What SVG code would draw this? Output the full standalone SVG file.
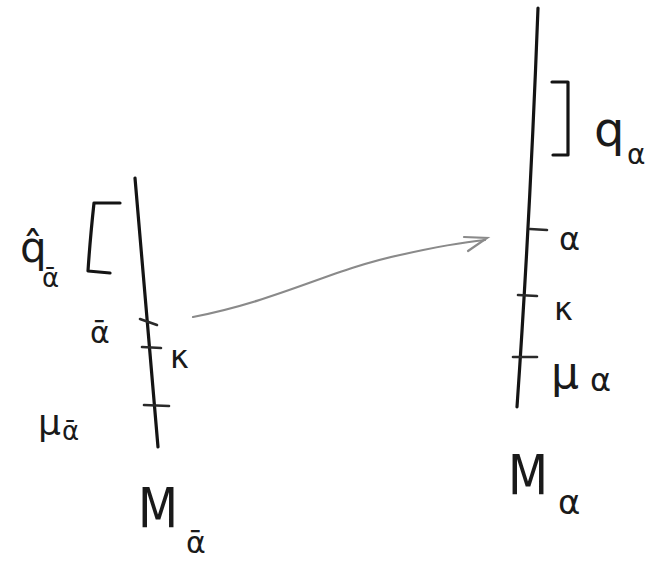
<svg xmlns="http://www.w3.org/2000/svg" width="653" height="563" viewBox="0 0 653 563">
<style>
.axis{fill:none;stroke:#141414;stroke-width:3.2;stroke-linecap:round;stroke-linejoin:round}
.tick{fill:none;stroke:#2a2a2a;stroke-width:2.6;stroke-linecap:round}
.lbl{font-family:"DejaVu Sans","Liberation Sans",sans-serif;fill:#1a1a1a}
.conn{fill:none;stroke:#8a8a8a;stroke-width:2.2;stroke-linecap:round}
</style>
<rect width="653" height="563" fill="#ffffff"/>
<g id="scale-left">
<path class="axis" d="M135,178 Q146,310 158,447"/>
<path class="axis" d="M120,203 L94,203 Q90,240 88,271 L110,273"/>
<path class="tick" d="M140,319 L157,325"/>
<path class="tick" d="M142,347 L161,348"/>
<path class="tick" d="M144,405 L169,406"/>
<text class="lbl" x="20" y="262" font-size="42">q̂</text>
<text class="lbl" x="42" y="287" font-size="26">ᾱ</text>
<text class="lbl" x="90" y="343" font-size="30">ᾱ</text>
<text class="lbl" x="170" y="368" font-size="32">κ</text>
<text class="lbl" x="38" y="435" font-size="36">μ</text>
<text class="lbl" x="62" y="440" font-size="26">ᾱ</text>
<text class="lbl" x="138" y="527" font-size="56" textLength="40" lengthAdjust="spacingAndGlyphs">M</text>
<text class="lbl" x="186" y="553" font-size="30">ᾱ</text>
</g>
<g id="scale-right">
<path class="axis" d="M538,8 Q530,220 517,407"/>
<path class="axis" d="M552,82 L568,82 L568,155 L553,155"/>
<path class="tick" d="M530,229 L547,230"/>
<path class="tick" d="M518,295 L537,296"/>
<path class="tick" d="M513,357 L537,357"/>
<text class="lbl" x="594" y="146" font-size="48">q</text>
<text class="lbl" x="627" y="164" font-size="28">α</text>
<text class="lbl" x="559" y="250" font-size="32">α</text>
<text class="lbl" x="554" y="320" font-size="32">κ</text>
<text class="lbl" x="551" y="388" font-size="44">μ</text>
<text class="lbl" x="590" y="391" font-size="32">α</text>
<text class="lbl" x="508" y="494" font-size="56" textLength="40" lengthAdjust="spacingAndGlyphs">M</text>
<text class="lbl" x="558" y="514" font-size="34">α</text>
</g>
<g id="connectors">
<path class="conn" d="M193,317 C280,300 330,270 400,255 C440,246 465,242 485,240"/>
<path class="conn" d="M464,237 L487,238 L468,251" stroke="#333" stroke-width="2.6"/>
</g>
</svg>
